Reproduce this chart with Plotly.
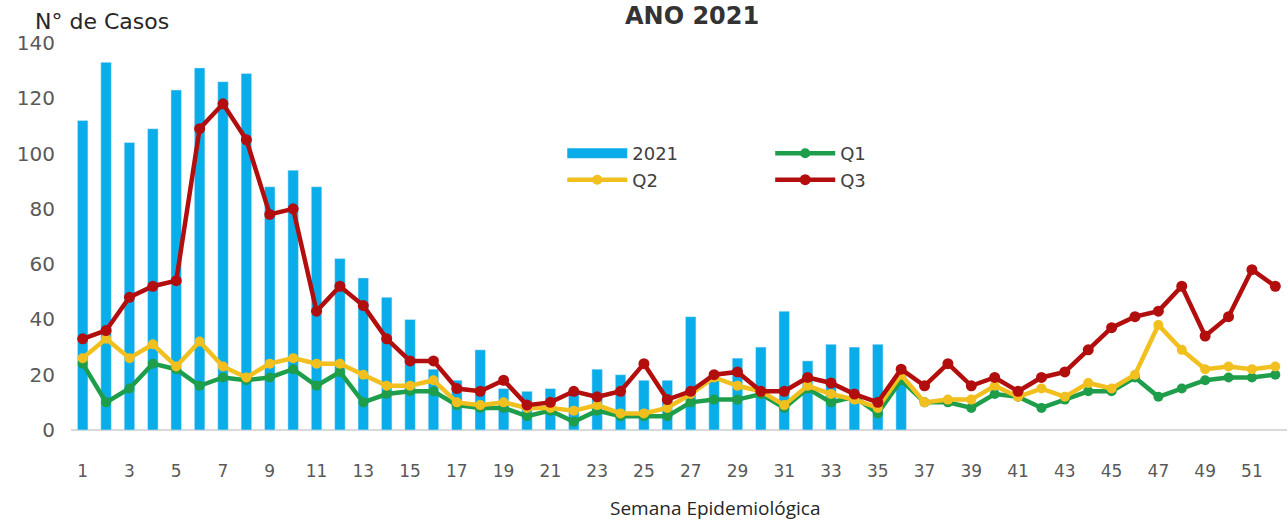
import plotly.graph_objects as go

weeks = list(range(1, 53))
bar_weeks = list(range(1, 37))
casos_2021 = [112, 133, 104, 109, 123, 131, 126, 129, 88, 94, 88, 62, 55, 48, 40, 22,
              18, 29, 15, 14, 15, 14, 22, 20, 18, 18, 41, 20, 26, 30, 43, 25, 31, 30, 31, 20]
q1 = [24, 10, 15, 24, 22, 16, 19, 18, 19, 22, 16, 21, 10, 13, 14, 14, 9, 8, 8, 5, 7, 3, 7, 5, 5, 5,
      10, 11, 11, 13, 8, 15, 10, 12, 6, 18, 10, 10, 8, 13, 12, 8, 11, 14, 14, 19, 12, 15, 18, 19, 19, 20]
q2 = [26, 33, 26, 31, 23, 32, 23, 19, 24, 26, 24, 24, 20, 16, 16, 18, 10, 9, 10, 8, 8, 7, 9, 6, 6, 8,
      13, 19, 16, 14, 9, 16, 13, 11, 8, 20, 10, 11, 11, 16, 12, 15, 12, 17, 15, 20, 38, 29, 22, 23, 22, 23]
q3 = [33, 36, 48, 52, 54, 109, 118, 105, 78, 80, 43, 52, 45, 33, 25, 25, 15, 14, 18, 9, 10, 14, 12, 14, 24, 11,
      14, 20, 21, 14, 14, 19, 17, 13, 10, 22, 16, 24, 16, 19, 14, 19, 21, 29, 37, 41, 43, 52, 34, 41, 58, 52]
x_ticks = list(range(1, 53, 2))
y_ticks = list(range(0, 141, 20))

BLUE = "#08ADEA"
GREEN = "#1E9E4A"
YELLOW = "#F2C01E"
RED = "#B30E0E"

fig = go.Figure()
fig.add_trace(go.Bar(x=bar_weeks, y=casos_2021, name="2021", marker_color=BLUE,
                     width=0.45, showlegend=False))
# legend entry for the bars drawn as a wide block
fig.add_trace(go.Scatter(x=[None], y=[None], name="2021", mode="lines",
                         line=dict(color=BLUE, width=14), legend="legend"))
fig.add_trace(go.Scatter(x=weeks, y=q1, name="Q1", mode="lines+markers",
                         line=dict(color=GREEN, width=4.5), marker=dict(size=10),
                         cliponaxis=False, legend="legend2"))
fig.add_trace(go.Scatter(x=weeks, y=q2, name="Q2", mode="lines+markers",
                         line=dict(color=YELLOW, width=4.5), marker=dict(size=10),
                         cliponaxis=False, legend="legend"))
fig.add_trace(go.Scatter(x=weeks, y=q3, name="Q3", mode="lines+markers",
                         line=dict(color=RED, width=4.5), marker=dict(size=11),
                         cliponaxis=False, legend="legend2"))

legend_common = dict(font=dict(family="DejaVu Sans", size=18, color="#404040"),
                     bgcolor="rgba(0,0,0,0)", tracegroupgap=0, itemwidth=60,
                     xanchor="left", yanchor="top", traceorder="normal")

fig.update_layout(
    width=1288, height=522,
    margin=dict(l=71, r=1, t=43, b=92),
    plot_bgcolor="white", paper_bgcolor="white",
    showlegend=True,
    legend=dict(x=0.404, y=0.762, **legend_common),
    legend2=dict(x=0.575, y=0.762, **legend_common),
    xaxis=dict(range=[0.5, 52.5], tickmode="array", tickvals=x_ticks,
               showgrid=False, showline=False, zeroline=False,
               ticks="outside", ticklen=26, tickcolor="rgba(0,0,0,0)",
               tickfont=dict(family="DejaVu Sans", size=17, color="#595959")),
    yaxis=dict(range=[0, 140], tickmode="array", tickvals=y_ticks,
               showgrid=False, showline=False, zeroline=True, zerolinecolor="#D9D9D9",
               zerolinewidth=1.5,
               ticks="outside", ticklen=11, tickcolor="rgba(0,0,0,0)",
               tickfont=dict(family="DejaVu Sans", size=20, color="#595959")),
    annotations=[
        dict(text="N° de Casos", xref="paper", yref="paper", x=-0.031, y=1.0,
             xanchor="left", yanchor="bottom", showarrow=False, yshift=7,
             font=dict(family="DejaVu Sans", size=22, color="#262626")),
        dict(text="<b>ANO 2021</b>", xref="paper", yref="paper", x=0.511, y=1.111,
             xanchor="center", yanchor="top", showarrow=False,
             font=dict(family="DejaVu Sans", size=24, color="#333333")),
        dict(text="Semana Epidemiológica", xref="paper", yref="paper", x=0.5296, y=-0.2016,
             xanchor="center", yanchor="middle", showarrow=False,
             font=dict(family="Open Sans", size=19, color="#262626")),
    ],
)

fig.write_html("out.html", config={"displayModeBar": False},
               post_script="document.body.style.margin='0';")
